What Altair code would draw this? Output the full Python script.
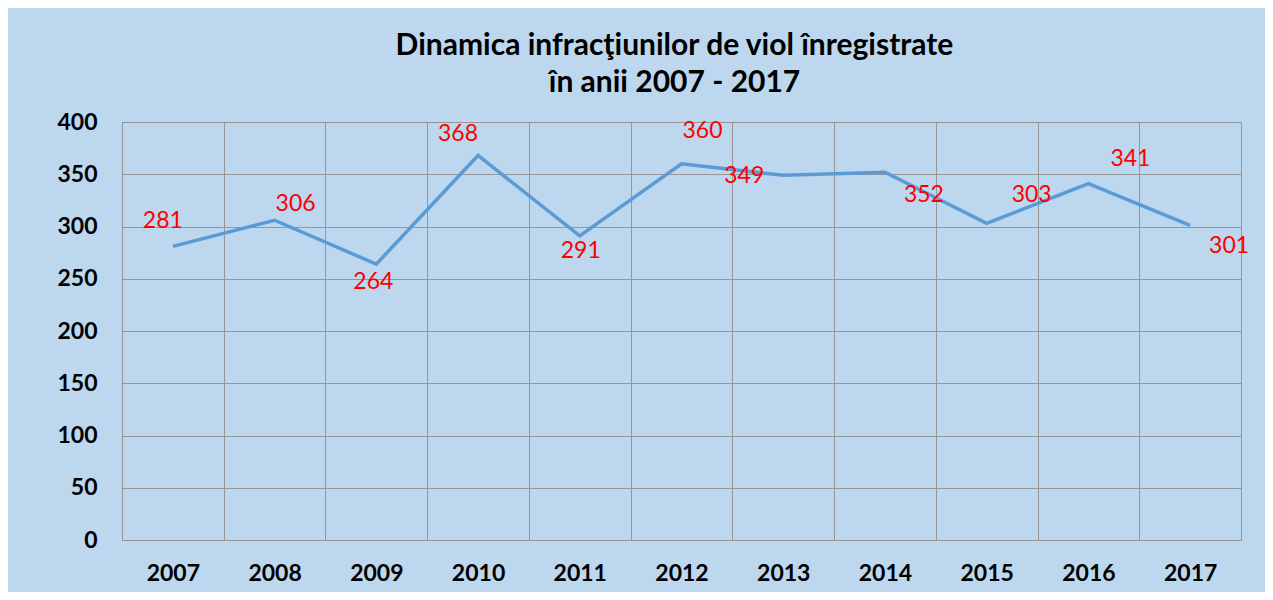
import altair as alt
import pandas as pd

years = ["2007", "2008", "2009", "2010", "2011", "2012", "2013", "2014", "2015", "2016", "2017"]
values = [281, 306, 264, 368, 291, 360, 349, 352, 303, 341, 301]
title_lines = ["Dinamica infracţiunilor de viol înregistrate", "în anii 2007 - 2017"]
y_ticks = [0, 50, 100, 150, 200, 250, 300, 350, 400]

df = pd.DataFrame({"year": years, "value": values})

FONT = "Lato"
BG = "#BDD7EE"
GRID = "#969696"

x_enc = alt.X(
    "year:O",
    sort=years,
    bandPosition=0.5,
    scale=alt.Scale(type="band", paddingInner=0, paddingOuter=0),
    axis=alt.Axis(
        title=None, grid=True, tickBand="extent", gridColor=GRID, gridWidth=1,
        gridOpacity=1, ticks=False, domain=False, labelAngle=0,
        labelFont=FONT, labelFontSize=23, labelFontWeight="bold",
        labelColor="black", labelPadding=22,
    ),
)
y_enc = alt.Y(
    "value:Q",
    scale=alt.Scale(domain=[0, 400], nice=False, zero=True),
    axis=alt.Axis(
        title=None, values=y_ticks, grid=True, gridColor=GRID, gridWidth=1,
        gridOpacity=1, ticks=False, domain=False,
        labelFont=FONT, labelFontSize=23, labelFontWeight="bold",
        labelColor="black", labelPadding=25,
    ),
)

base = alt.Chart(df)
line = base.mark_line(color="#5B9BD5", strokeWidth=3.5).encode(x=x_enc, y=y_enc)

# per-label nudges (pixels), as placed in the original chart
nudges = {
    "2007": (-10, -25), "2008": (21, -16), "2009": (-3, 18), "2010": (-20, -21),
    "2011": (1, 15), "2012": (21, -33), "2013": (-39, 1), "2014": (39, 23),
    "2015": (45, -28), "2016": (42, -25), "2017": (39, 21),
}
layers = [line]
for yr in years:
    ddx, ddy = nudges[yr]
    layers.append(
        base.transform_filter(alt.datum.year == yr)
        .mark_text(font=FONT, fontSize=23, color="#FF0000", dx=ddx, dy=ddy,
                   align="center", baseline="middle")
        .encode(x=x_enc, y=y_enc, text="value:Q")
    )

chart = (
    alt.layer(*layers)
    .properties(
        width=1119,
        height=418,
        background=BG,
        autosize=alt.AutoSizeParams(type="none"),
        padding={"left": 114, "top": 114, "right": 24, "bottom": 52},
        title=alt.TitleParams(
            text=title_lines, font=FONT, fontSize=30, fontWeight="bold",
            color="black", anchor="middle", lineHeight=37, offset=13, dx=-7,
        ),
    )
    .configure_view(stroke=GRID, strokeWidth=1)
)

chart.save("out.html", embed_options={"renderer": "svg", "actions": False})
